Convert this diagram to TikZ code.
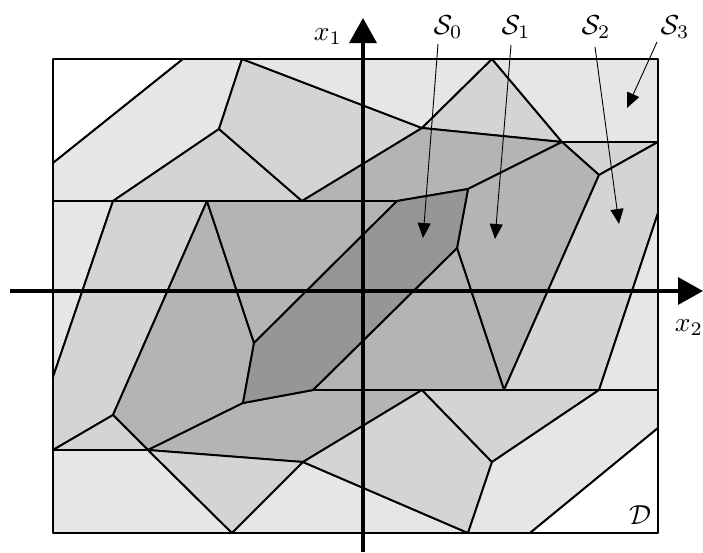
\documentclass[tikz,border=0pt]{standalone}
\usetikzlibrary{arrows.meta}
\definecolor{cS0}{RGB}{150,150,150}
\definecolor{cS1}{RGB}{180,180,180}
\definecolor{cS2}{RGB}{212,212,212}
\definecolor{cS3}{RGB}{230,229,231}
\newcommand{\bigtxt}[1]{\scalebox{2.75}{#1}}
\tikzset{
  face/.style={draw=black,line width=1.9pt,line join=round,fill=#1},
  axis/.style={line width=3.4pt,-{Triangle[width=27pt,length=25pt]}},
  pointer/.style={line width=0.9pt,-{Triangle[width=13pt,length=15pt]}},
  lab/.style={inner sep=0pt}
}
\begin{document}
\begin{tikzpicture}[x=1pt,y=-1pt]
\useasboundingbox (0,0) rectangle (703,552);
% corners
\coordinate (TL) at (53,59);
\coordinate (TR) at (658,59);
\coordinate (BR) at (658,533);
\coordinate (BL) at (53,533);
% vertices
\coordinate (A0) at (53,163);
\coordinate (A) at (183,59);
\coordinate (B) at (242,59);
\coordinate (C) at (219,129);
\coordinate (L2) at (53,201);
\coordinate (D) at (113,201);
\coordinate (T) at (207,201);
\coordinate (E) at (302,201);
\coordinate (M) at (397,201);
\coordinate (F) at (422,128);
\coordinate (G) at (492,59);
\coordinate (H) at (562,142);
\coordinate (I) at (599,175);
\coordinate (J) at (658,142);
\coordinate (K) at (658,213);
\coordinate (Lp) at (468,189);
\coordinate (N) at (457,248);
\coordinate (O) at (254,343);
\coordinate (P) at (243,403);
\coordinate (Q) at (313,390);
\coordinate (AA) at (422,390);
\coordinate (R) at (504,390);
\coordinate (S) at (599,390);
\coordinate (R3) at (658,390);
\coordinate (U) at (53,377);
\coordinate (V) at (113,415);
\coordinate (W) at (53,450);
\coordinate (X) at (148,450);
\coordinate (Y) at (232,533);
\coordinate (Z) at (303,462);
\coordinate (BB) at (492,462);
\coordinate (CC) at (468,533);
\coordinate (DD) at (530,533);
\coordinate (EE) at (658,428);
% faces
\path[face=white] (TL) -- (A) -- (A0) -- cycle;
\path[face=cS3] (A0) -- (A) -- (B) -- (C) -- (D) -- (L2) -- cycle;
\path[face=cS2] (C) -- (D) -- (E) -- cycle;
\path[face=cS2] (B) -- (F) -- (E) -- (C) -- cycle;
\path[face=cS3] (B) -- (G) -- (F) -- cycle;
\path[face=cS2] (G) -- (H) -- (F) -- cycle;
\path[face=cS3] (G) -- (TR) -- (J) -- (H) -- cycle;
\path[face=cS1] (F) -- (H) -- (Lp) -- (M) -- (E) -- cycle;
\path[face=cS2] (H) -- (J) -- (I) -- cycle;
\path[face=cS1] (H) -- (I) -- (R) -- (N) -- (Lp) -- cycle;
\path[face=cS2] (I) -- (J) -- (K) -- (S) -- (R) -- cycle;
\path[face=cS3] (K) -- (R3) -- (S) -- cycle;
\path[face=cS3] (L2) -- (D) -- (U) -- cycle;
\path[face=cS2] (D) -- (T) -- (V) -- (W) -- (U) -- cycle;
\path[face=cS1] (T) -- (O) -- (P) -- (X) -- (V) -- cycle;
\path[face=cS1] (T) -- (M) -- (O) -- cycle;
\path[face=cS1] (Q) -- (N) -- (R) -- cycle;
\path[face=cS2] (W) -- (V) -- (X) -- cycle;
\path[face=cS3] (W) -- (X) -- (Y) -- (BL) -- cycle;
\path[face=cS1] (X) -- (P) -- (Q) -- (AA) -- (Z) -- cycle;
\path[face=cS2] (X) -- (Z) -- (Y) -- cycle;
\path[face=cS3] (Y) -- (Z) -- (CC) -- cycle;
\path[face=cS2] (Z) -- (AA) -- (BB) -- (CC) -- cycle;
\path[face=cS2] (AA) -- (R) -- (S) -- (BB) -- cycle;
\path[face=cS3] (BB) -- (S) -- (R3) -- (EE) -- (DD) -- (CC) -- cycle;
\path[face=white] (DD) -- (BR) -- (EE) -- cycle;
\path[face=cS0] (M) -- (Lp) -- (N) -- (Q) -- (P) -- (O) -- cycle;
% axes
\coordinate (hx0) at (10,291);
\coordinate (hx1) at (703,291);
\coordinate (vy0) at (363,552);
\coordinate (vy1) at (363,18);
\draw[axis] (hx0) -- (hx1);
\draw[axis] (vy0) -- (vy1);
% labels
\node[lab] (x1) at (328,37) {\bigtxt{$x_1$}};
\node[lab] (x2) at (689,328) {\bigtxt{$x_2$}};
\node[lab] (dd) at (640,515) {\bigtxt{$\mathcal{D}$}};
\node[lab] (s0) at (448,27) {\bigtxt{$\mathcal{S}_0$}};
\node[lab] (s1) at (516,27) {\bigtxt{$\mathcal{S}_1$}};
\node[lab] (s2) at (596,27) {\bigtxt{$\mathcal{S}_2$}};
\node[lab] (s3) at (675,27) {\bigtxt{$\mathcal{S}_3$}};
% pointers
\coordinate (p0a) at (438,44);  \coordinate (p0b) at (423,238);
\coordinate (p1a) at (511,45);  \coordinate (p1b) at (495,239);
\coordinate (p2a) at (595,47);  \coordinate (p2b) at (619,224);
\coordinate (p3a) at (657,42);  \coordinate (p3b) at (627,108);
\draw[pointer] (p0a) -- (p0b);
\draw[pointer] (p1a) -- (p1b);
\draw[pointer] (p2a) -- (p2b);
\draw[pointer] (p3a) -- (p3b);
\end{tikzpicture}
\end{document}
